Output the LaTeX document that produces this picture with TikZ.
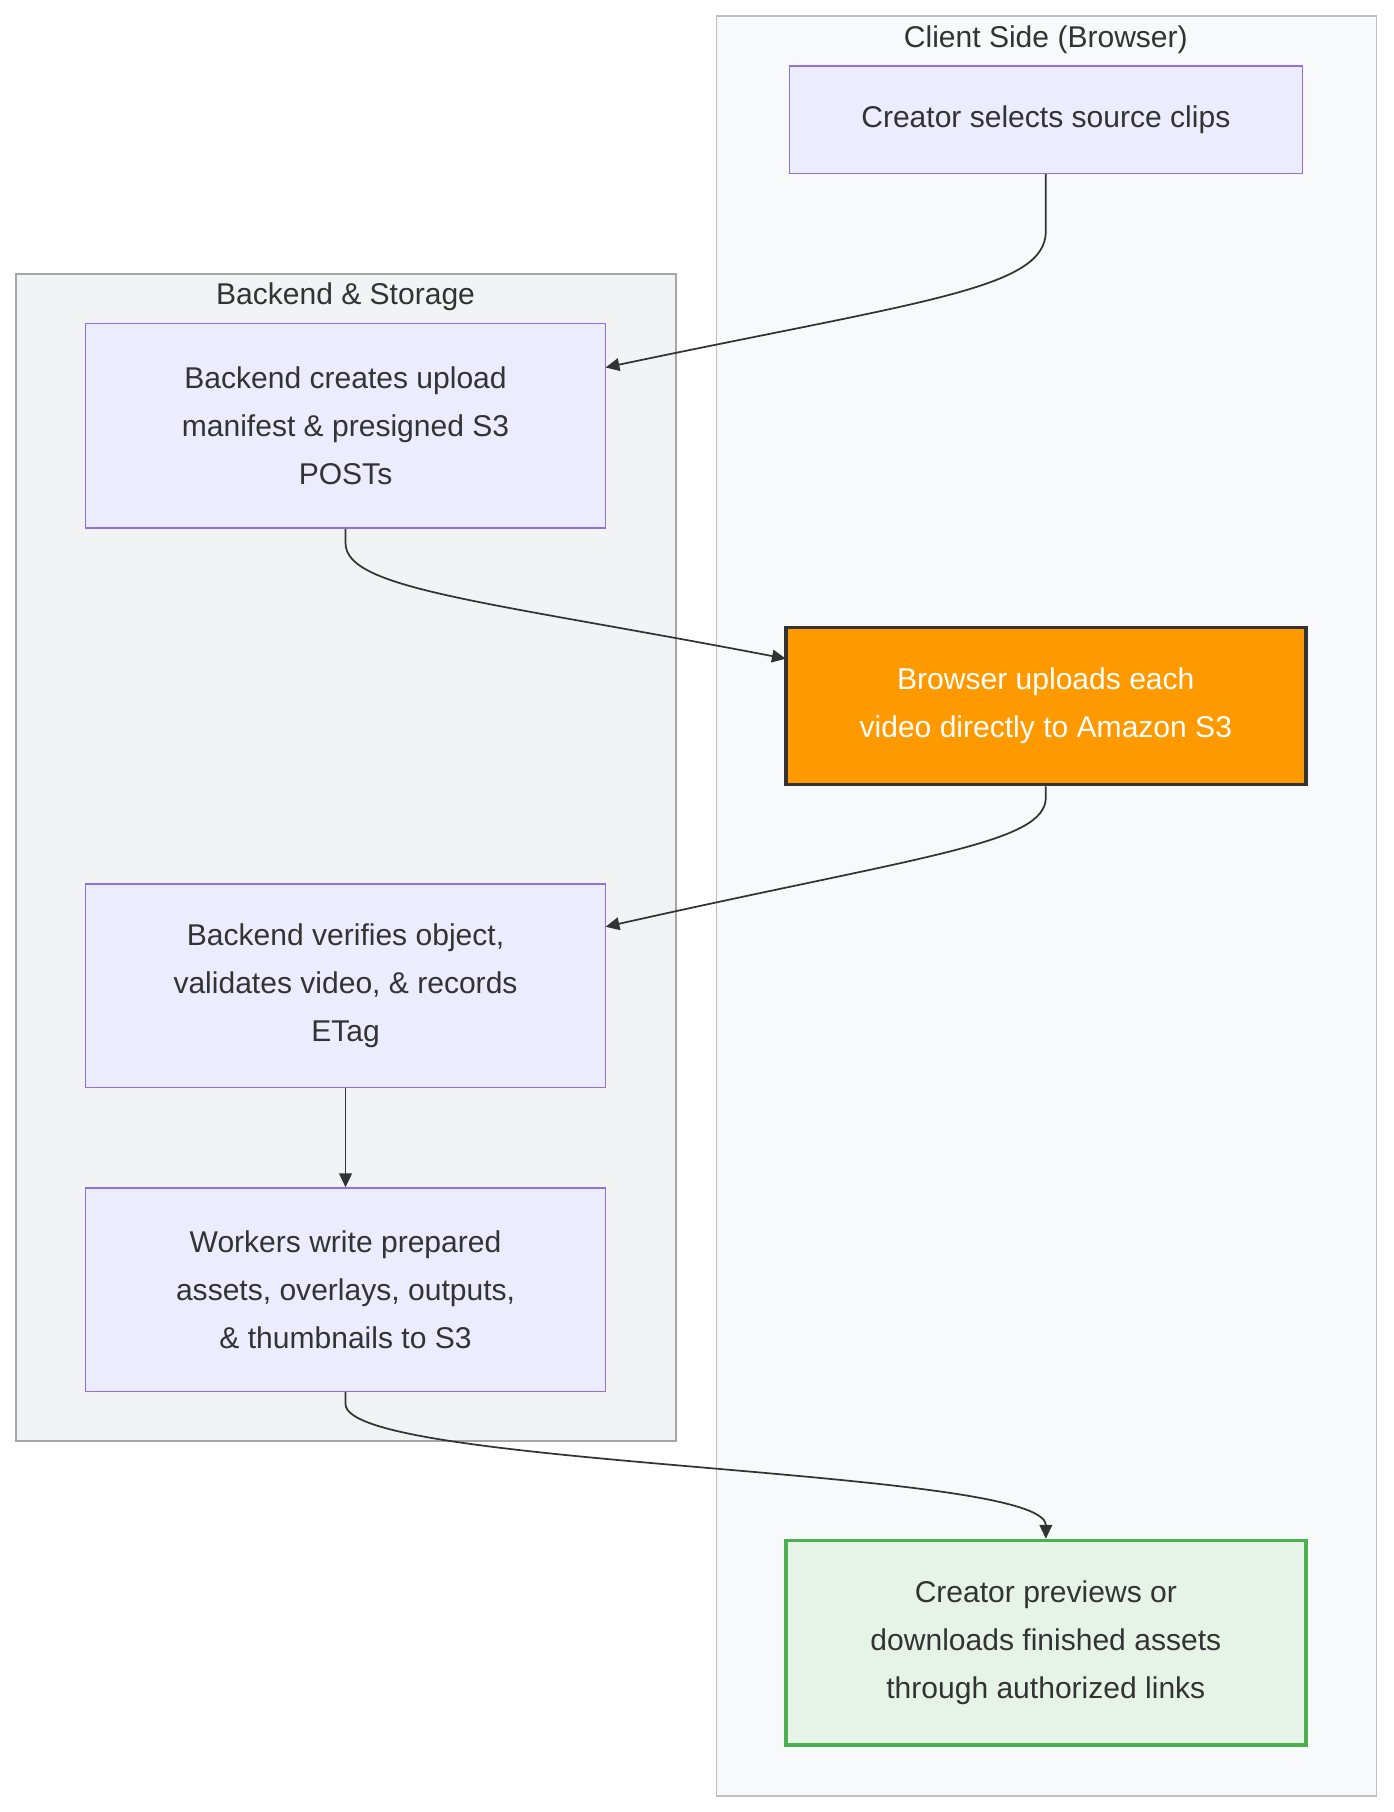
\documentclass[tikz,border=0pt]{standalone}
\usepackage{fontspec}
\setmainfont{Liberation Sans}
\usetikzlibrary{arrows.meta}
\definecolor{nodefill}{HTML}{ECECFF}
\definecolor{nodeline}{HTML}{9370DB}
\definecolor{txt}{HTML}{333333}
\tikzset{
 box/.style={draw=nodeline,fill=nodefill,line width=1.2pt,minimum width=450pt,align=center,text=txt,font=\fontsize{26}{41.5}\selectfont},
 cluster/.style={draw=#1,line width=1.2pt},
 edge/.style={draw=txt,line width=1.5pt,-{Triangle[length=12pt,width=11pt]}},
 ttl/.style={text=txt,font=\fontsize{26}{30}\selectfont}
}
\begin{document}
\begin{tikzpicture}[x=1pt,y=-1pt]
\useasboundingbox[fill=white] (0,0) rectangle (1206,1568);
\draw[cluster={black!25},fill={rgb,255:red,248;green,249;blue,251}] (620,14) rectangle (1191,1554);
\node[ttl] (tc) at (905,34) {Client Side (Browser)};
\draw[cluster={black!35},fill={rgb,255:red,242;green,243;blue,245}] (14,237) rectangle (585,1247);
\node[ttl] (tb) at (299,257) {Backend \& Storage};
\node[box,minimum width=444pt,minimum height=93pt] (A) at (905,103.5) {Creator selects source clips};
\node[box,minimum height=177pt] (B) at (299,368.5) {Backend creates upload\\manifest \& presigned S3\\POSTs};
\node[box,draw={rgb,255:red,51;green,51;blue,51},line width=3pt,fill={rgb,255:red,255;green,153;blue,0},text=white,minimum height=136pt] (C) at (905,611) {Browser uploads each\\video directly to Amazon S3};
\node[box,minimum height=176pt] (D) at (299,853) {Backend verifies object,\\validates video, \& records\\ETag};
\node[box,minimum height=176pt] (E) at (299,1116) {Workers write prepared\\assets, overlays, outputs,\\\& thumbnails to S3};
\node[box,draw={rgb,255:red,76;green,175;blue,80},line width=3pt,fill={rgb,255:red,230;green,244;blue,232},minimum height=177pt] (F) at (905,1421.5) {Creator previews or\\downloads finished assets\\through authorized links};
\coordinate (b1) at (524,318);
\coordinate (d1) at (524,802);
\coordinate (c1) at (680,570);
\draw[edge] (A.south) -- (905,200) .. controls (905,250) and (800,260) .. (b1);
\draw[edge] (B.south) -- (299,470) .. controls (299,510) and (420,520) .. (c1);
\draw[edge] (C.south) -- (905,690) .. controls (905,730) and (800,740) .. (d1);
\draw[edge] (D.south) -- (E.north);
\draw[edge] (E.south) -- (299,1215) .. controls (299,1270) and (905,1270) .. (F.north);
\end{tikzpicture}
\end{document}
